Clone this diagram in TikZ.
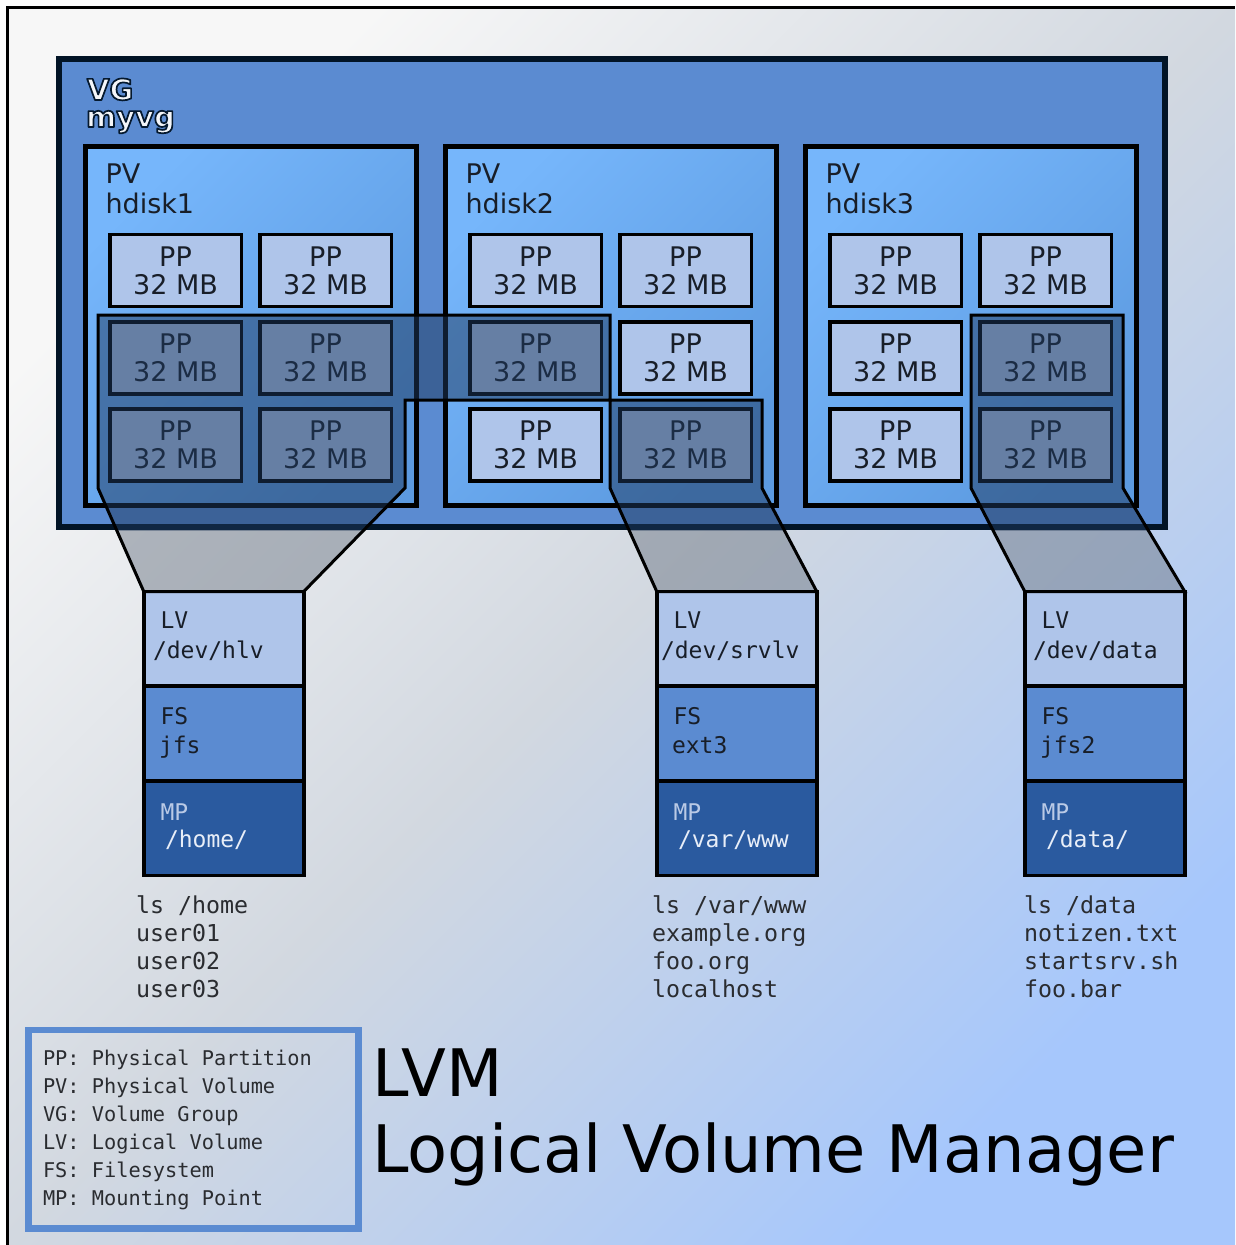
\documentclass[tikz,border=0pt]{standalone}
\usepackage{fontspec}
\setmainfont{DejaVu Sans}
\setmonofont{DejaVu Sans Mono}
\definecolor{bgA}{HTML}{F7F7F7}
\definecolor{bgB}{HTML}{D2D8E0}
\definecolor{bgC}{HTML}{A6C7FC}
\definecolor{vgfill}{HTML}{5B8BD1}
\definecolor{vgline}{HTML}{021426}
\definecolor{pvA}{HTML}{76B6FB}
\definecolor{pvB}{HTML}{5C9AE0}
\definecolor{ppfill}{HTML}{AFC5EA}
\definecolor{mpfill}{HTML}{2A5A9F}
\definecolor{txtdark}{HTML}{181E28}
\definecolor{ovA}{HTML}{1F3A60}
\definecolor{ovB}{HTML}{707A88}
\definecolor{mplab}{HTML}{BACAE6}
\definecolor{mptxt}{HTML}{E8EEF8}
\definecolor{listtxt}{HTML}{2A2C30}
\definecolor{vglight}{HTML}{F4F6F9}
\newcommand\olt[1]{\special{pdf:code q 2 Tr 1.7 w 1 j 0.02 0.10 0.18 RG}#1\special{pdf:code Q}}
\tikzset{
  vgbox/.style={draw=vgline, line width=6pt, fill=vgfill, minimum width=1106pt, minimum height=468pt},
  pvbox/.style={draw=black, line width=5pt, top color=pvA, bottom color=pvB, shading angle=45, minimum width=331pt, minimum height=359pt},
  ppbox/.style={draw=black, line width=3.5pt, fill=ppfill, minimum width=131.5pt, minimum height=72pt, align=center, font=\fontsize{27}{28}\selectfont, text=txtdark},
  lvbox/.style={draw=black, line width=3.5pt, minimum width=160pt, minimum height=94.67pt, anchor=north west},
  sanslab/.style={anchor=base west, font=\fontsize{27}{28}\selectfont, text=txtdark},
  vglab/.style={anchor=base west, font=\fontsize{29}{28}\selectfont\bfseries, text=vglight},
  monolab/.style={anchor=base west, font=\ttfamily\fontsize{23}{28}\selectfont, text=txtdark},
  listlab/.style={anchor=base west, font=\ttfamily\fontsize{23.3}{28}\selectfont, text=listtxt},
  leglab/.style={anchor=base west, font=\ttfamily\fontsize{20.3}{28}\selectfont, text=listtxt},
  titlelab/.style={anchor=base west, font=\fontsize{65.5}{70}\selectfont, text=black},
  ovdark/.style={fill=ovA, fill opacity=0.5},
  ovgrey/.style={fill=ovB, fill opacity=0.5},
  ovline/.style={draw=black, line width=3pt, line join=miter}
}
\begin{document}
\begin{tikzpicture}[x=1pt,y=-1pt, every node/.style={inner sep=0pt,outer sep=0pt}]
\useasboundingbox (0,0) rectangle (1235,1245);
\fill[white] (0,0) rectangle (1235,1245);
\shade[top color=bgA, bottom color=bgC, middle color=bgB, shading angle=45] (9,9) rectangle (1235,1245);
\draw[line width=3pt] (7.5,1245) -- (7.5,7.5) -- (1235,7.5);

% volume group
\node[vgbox] (vg) at (612,293) {};
\node[vglab] (vgA) at (87,100) {\olt{VG}};
\node[vglab] (vgB) at (86,127) {\olt{myvg}};

% physical volumes
\foreach \d in {0,1,2} {
  \node[pvbox] (pv\d) at ({251+360*\d},326) {};
  \node[sanslab] (pvA\d) at ({105.5+360*\d},183) {PV};
  \pgfmathtruncatemacro{\n}{\d+1}
  \node[sanslab] (pvB\d) at ({105.5+360*\d},213) {hdisk\n};
  \foreach \c in {0,1} {
    \foreach \yy [count=\r] in {270.5,358,445} {
      \node[ppbox] (pp-\d-\c-\r) at ({175.5+360*\d+150*\c},\yy) {PP\\32 MB};
    }
  }
}

% logical volume stacks
\newcommand\lvstack[5]{%
  \node[lvbox, fill=ppfill] (#1-lv) at (#2+1.75,591.5) {};
  \node[lvbox, fill=vgfill] (#1-fs) at (#1-lv.south west) {};
  \node[lvbox, fill=mpfill] (#1-mp) at (#1-fs.south west) {};
  \node[monolab] (#1-lvA) at (#2+18.5,628) {LV};
  \node[monolab] (#1-fsA) at (#2+18.5,724) {FS};
  \node[monolab, text=mplab] (#1-mpA) at (#2+18.5,820) {MP};
  \node[monolab] (#1-fsB) at (#2+17,753) {#4};
  \node[monolab, text=mptxt] (#1-mpB) at (#2+23,847) {#5};
}
\lvstack{hlv}{142}{}{jfs}{/home/}
\node[monolab] (hlv-lvB) at (153,658) {/dev/hlv};
\lvstack{srv}{655}{}{ext3}{/var/www}
\node[monolab] (srv-lvB) at (661,658) {/dev/srvlv};
\lvstack{dat}{1023}{}{jfs2}{/data/}
\node[monolab] (dat-lvB) at (1033,658) {/dev/data};

% directory listings
\foreach \t [count=\i] in {ls /home,user01,user02,user03}
  \node[listlab] (lsA\i) at (136,{885+28*\i}) {\t};
\foreach \t [count=\i] in {ls /var/www,example.org,foo.org,localhost}
  \node[listlab] (lsB\i) at (652,{885+28*\i}) {\t};
\foreach \t [count=\i] in {ls /data,notizen.txt,startsrv.sh,foo.bar}
  \node[listlab] (lsC\i) at (1024,{885+28*\i}) {\t};

% logical volume mappings
\def\polyA{(98,315) -- (610,315) -- (610,400) -- (405,400) -- (405,488) -- (hlv-lv.north east) -- (hlv-lv.north west) -- (98,488) -- cycle}
\def\polyB{(610,400) -- (762,400) -- (762,488) -- (srv-lv.north east) -- (srv-lv.north west) -- (610,488) -- cycle}
\def\polyC{(971,315) -- (1123,315) -- (1123,488) -- (dat-lv.north east) -- (dat-lv.north west) -- (971,488) -- cycle}
\begin{scope}
  \clip (0,0) rectangle (1235,530);
  \fill[ovdark] \polyA;
  \fill[ovdark] \polyB;
  \fill[ovdark] \polyC;
\end{scope}
\begin{scope}
  \clip (0,530) rectangle (1235,1245);
  \fill[ovgrey] \polyA;
  \fill[ovgrey] \polyB;
  \fill[ovgrey] \polyC;
\end{scope}
\draw[ovline] \polyA;
\draw[ovline] \polyB;
\draw[ovline] \polyC;

% legend
\node[draw=vgfill, line width=6.5pt, minimum width=330pt, minimum height=198.5pt] (legend) at (193.5,1129.25) {};
\foreach \t [count=\i] in {PP: Physical Partition,PV: Physical Volume,VG: Volume Group,LV: Logical Volume,FS: Filesystem,MP: Mounting Point}
  \node[leglab] (leg\i) at (43,{1037+28*\i}) {\t};

% title
\node[titlelab] (titleA) at (372,1096) {LVM};
\node[titlelab] (titleB) at (372,1172) {Logical Volume Manager};
\end{tikzpicture}
\end{document}
